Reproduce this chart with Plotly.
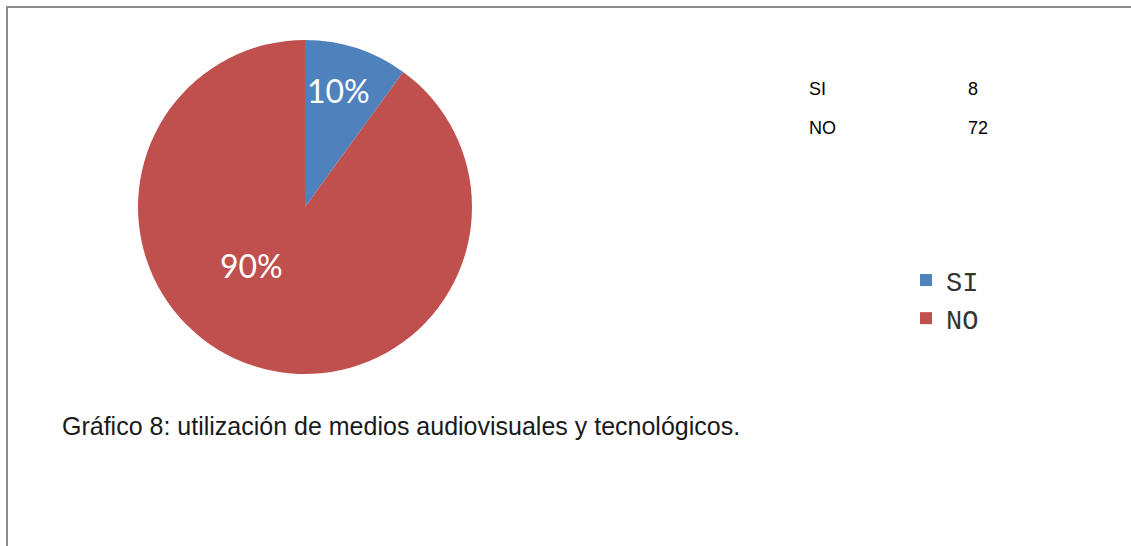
import plotly.graph_objects as go

W, H = 1131, 546

# datos
categorias = ["SI", "NO"]
valores = [8, 72]
colores = ["#4F81BD", "#C0504D"]
titulo = "Gráfico 8: utilización de medios audiovisuales y tecnológicos."

total = sum(valores)
porcentajes = [f"{round(v * 100 / total)}%" for v in valores]


def px(x):
    return x / W


def py(y):
    return 1 - y / H


fig = go.Figure(go.Pie(
    labels=categorias,
    values=valores,
    marker=dict(colors=colores, line=dict(width=0)),
    sort=False,
    direction="clockwise",
    rotation=0,
    textinfo="none",
    hoverinfo="label+value+percent",
    domain=dict(x=[px(138), px(472)], y=[py(374), py(40)]),
))

# etiquetas de porcentaje dentro del pastel
pos_etiquetas = [(338, 91), (251, 265)]
for txt, (x, y) in zip(porcentajes, pos_etiquetas):
    fig.add_annotation(x=px(x), y=py(y), xref="paper", yref="paper",
                       text=txt, showarrow=False,
                       xanchor="center", yanchor="middle",
                       font=dict(family="Lato", size=32, color="white"))

# tabla pequeña con los valores
for i, (c, v) in enumerate(zip(categorias, valores)):
    y = 89 + i * 39
    fig.add_annotation(x=px(807), y=py(y), xref="paper", yref="paper",
                       text=c, showarrow=False, xanchor="left", yanchor="middle",
                       font=dict(family="Liberation Sans", size=18, color="black"))
    fig.add_annotation(x=px(966), y=py(y), xref="paper", yref="paper",
                       text=str(v), showarrow=False, xanchor="left", yanchor="middle",
                       font=dict(family="Liberation Sans", size=18, color="black"))

fig.add_annotation(x=px(60), y=py(426), xref="paper", yref="paper",
                   text=titulo, showarrow=False, xanchor="left", yanchor="middle",
                   font=dict(family="Liberation Sans", size=25, color="#1a1a1a"))

# marco (solo izquierda y arriba visibles)
fig.add_shape(type="line", xref="paper", yref="paper",
              x0=px(7), y0=0, x1=px(7), y1=py(7),
              line=dict(color="#8c8c8c", width=2))
fig.add_shape(type="line", xref="paper", yref="paper",
              x0=px(6), y0=py(7), x1=1, y1=py(7),
              line=dict(color="#8c8c8c", width=2))

fig.update_layout(
    width=W, height=H,
    margin=dict(l=0, r=0, t=0, b=0),
    paper_bgcolor="white",
    plot_bgcolor="white",
    showlegend=True,
    legend=dict(x=px(906), y=py(256), xanchor="left", yanchor="top",
                font=dict(family="Liberation Mono", size=27, color="#333"),
                itemwidth=30, tracegroupgap=0),
)

fig.write_html("out.html", config={"displayModeBar": False},
               post_script="document.body.style.margin='0';")
